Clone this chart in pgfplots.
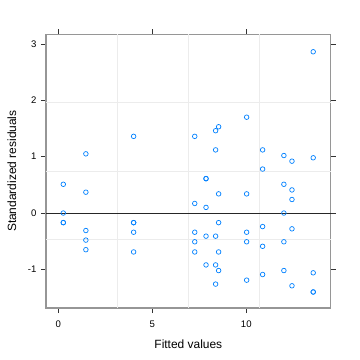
\documentclass[border=0pt]{standalone}
\usepackage{fontspec}
\setmainfont{Liberation Sans}
\usepackage{pgfplots}
\pgfplotsset{compat=1.18}
\definecolor{ptblue}{HTML}{0080FF}
\definecolor{boxgray}{RGB}{150,150,150}
\definecolor{gridgray}{RGB}{236,236,236}
\begin{document}
\begin{tikzpicture}
\useasboundingbox (-46bp,-52bp) rectangle (314bp,308bp);
\begin{axis}[
  scale only axis,
  width=284.7bp, height=273.7bp,
  xmin=-0.65, xmax=14.49,
  ymin=-1.684, ymax=3.17,
  xtick={0,5,10}, ytick={-1,0,1,2,3},
  tick align=outside,
  major tick length=5bp,
  tick pos=both,
  xticklabel pos=left, yticklabel pos=left,
  axis line style={boxgray, line width=1.1bp},
  every tick/.style={black!80, line width=0.6bp},
  tick label style={font=\fontsize{9.6}{11}\selectfont, text=black},
  /pgf/number format/assume math mode=true,
  yticklabel style={xshift=-1bp},
  xticklabel style={yshift=-4bp},
  xlabel={Fitted values},
  ylabel={Standardized residuals},
  label style={font=\fontsize{12}{14}\selectfont},
  xlabel style={yshift=-6bp},
  ylabel style={yshift=5bp},
  clip=false,
]
\pgfplotsinvokeforeach{3.135,6.92,10.705}{
  \draw[gridgray, line width=0.8bp] (axis cs:#1,-1.684) -- (axis cs:#1,3.17);
}
\pgfplotsinvokeforeach{-0.471,0.743,1.956}{
  \draw[gridgray, line width=0.8bp] (axis cs:-0.65,#1) -- (axis cs:14.49,#1);
}
\draw[black!85, line width=0.8bp] (axis cs:-0.65,0) -- (axis cs:14.49,0);
\addplot[only marks, mark=o, mark size=2.3bp, ptblue, mark options={line width=0.7bp}] table {
x y
0.27 0.51
0.27 0.00
0.27 -0.17
0.27 -0.17
1.47 1.05
1.47 0.37
1.47 -0.31
1.47 -0.48
1.47 -0.65
4.01 1.36
4.01 -0.17
4.01 -0.17
4.01 -0.34
4.01 -0.69
7.26 1.36
7.26 0.17
7.26 -0.34
7.26 -0.51
7.26 -0.69
7.86 0.61
7.86 0.61
7.86 0.10
7.86 -0.41
7.86 -0.92
8.37 1.46
8.37 1.12
8.37 -0.41
8.37 -0.92
8.37 -1.26
8.53 1.53
8.53 0.34
8.53 -0.17
8.53 -0.69
8.53 -1.02
10.02 1.70
10.02 0.34
10.02 -0.34
10.02 -0.51
10.02 -1.19
10.87 1.12
10.87 0.78
10.87 -0.24
10.87 -0.59
10.87 -1.09
12.00 1.02
12.00 0.51
12.00 0.00
12.00 -0.51
12.00 -1.02
12.43 0.92
12.43 0.41
12.43 0.24
12.43 -0.28
12.43 -1.29
13.56 2.86
13.56 0.98
13.56 -1.06
13.56 -1.40
13.56 -1.40
};
\end{axis}
\end{tikzpicture}
\end{document}
